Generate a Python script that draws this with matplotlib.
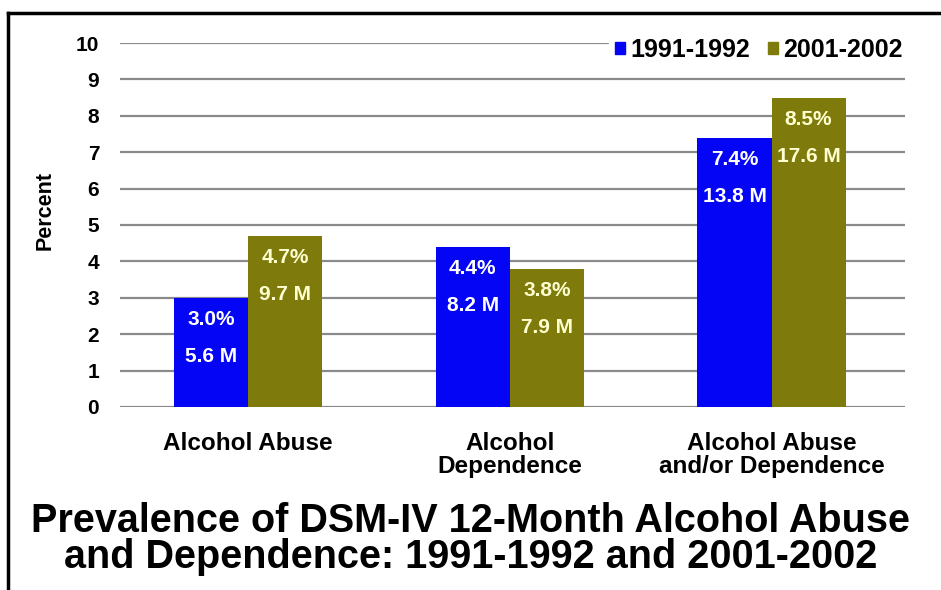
import matplotlib
matplotlib.use("Agg")
import matplotlib.pyplot as plt
from matplotlib.lines import Line2D
from matplotlib.patches import Patch
import numpy as np

CATEGORIES = ["Alcohol Abuse", "Alcohol\nDependence", "Alcohol Abuse\nand/or Dependence"]
SERIES = ["1991-1992", "2001-2002"]
PCT_1991 = [3.0, 4.4, 7.4]
PCT_2001 = [4.7, 3.8, 8.5]
MILLIONS_1991 = [5.6, 8.2, 13.8]
MILLIONS_2001 = [9.7, 7.9, 17.6]
TITLE = "Prevalence of DSM-IV 12-Month Alcohol Abuse\nand Dependence: 1991-1992 and 2001-2002"

BLUE = "#0505F5"
OLIVE = "#7E7B0C"
FONT = "Liberation Sans"

plt.rcParams["font.family"] = [FONT, "DejaVu Sans"]
plt.rcParams["font.weight"] = "bold"

fig = plt.figure(figsize=(9.41, 5.9), dpi=100)
ax = fig.add_axes([0.1275, 0.3102, 0.8342, 0.6169])

x = np.arange(len(CATEGORIES))
width = 0.283
ax.bar(x - width / 2, PCT_1991, width, color=BLUE, zorder=3)
ax.bar(x + width / 2, PCT_2001, width, color=OLIVE, zorder=3)


def bar_labels(xs, pcts, mills, color):
    # two lines of text inside the top of each bar
    for xi, p, m in zip(xs, pcts, mills):
        ax.annotate(f"{p:.1f}%", (xi, p), xytext=(0, -27), textcoords="offset pixels",
                    ha="center", va="baseline", color=color, fontsize=15, fontweight="bold", zorder=4)
        ax.annotate(f"{m:.1f} M", (xi, p), xytext=(0, -64), textcoords="offset pixels",
                    ha="center", va="baseline", color=color, fontsize=15, fontweight="bold", zorder=4)


bar_labels(x - width / 2, PCT_1991, MILLIONS_1991, "white")
bar_labels(x + width / 2, PCT_2001, MILLIONS_2001, "#FFFFD0")

ax.set_xlim(-0.49, 2.51)
ax.set_ylim(0, 10)
ax.set_yticks(range(0, 11))
ax.set_xticks(x)
ax.set_xticklabels(CATEGORIES, fontsize=17.5, fontweight="bold", linespacing=1.02)
ax.tick_params(axis="both", length=0)
ax.tick_params(axis="y", pad=15, labelsize=15)
ax.tick_params(axis="x", pad=18)
for lbl in ax.get_yticklabels():
    lbl.set_fontweight("bold")

ax.yaxis.grid(True, color="#8a8a8a", linewidth=1.6, zorder=0)
for s in ax.spines.values():
    s.set_visible(False)
fig.text(45 / 941, 1 - 211 / 590, "Percent", rotation=90, ha="center", va="center",
         fontsize=15.5, fontweight="bold")

handles = [Patch(color=BLUE), Patch(color=OLIVE)]
leg = ax.legend(handles, SERIES, loc="center right", bbox_to_anchor=(1.005, 0.981), ncol=2,
                frameon=True, facecolor="white", edgecolor="white", framealpha=1,
                fontsize=18, handlelength=0.42, handleheight=0.42, handletextpad=0.2,
                columnspacing=0.7, borderpad=0.25, borderaxespad=0)
for t in leg.get_texts():
    t.set_fontweight("bold")
leg.set_zorder(5)

fig.text(0.5, 0.087, TITLE, ha="center", va="center", fontsize=28.5, fontweight="bold",
         linespacing=0.93)

# black frame on top and left
fig.add_artist(Line2D([0.0085, 1.0], [1 - 13 / 590, 1 - 13 / 590], color="black", linewidth=2.5,
                      transform=fig.transFigure))
fig.add_artist(Line2D([0.0085, 0.0085], [0.0, 1 - 13 / 590], color="black", linewidth=2.5,
                      transform=fig.transFigure))

fig.savefig("out.png", dpi=100, facecolor="white")
